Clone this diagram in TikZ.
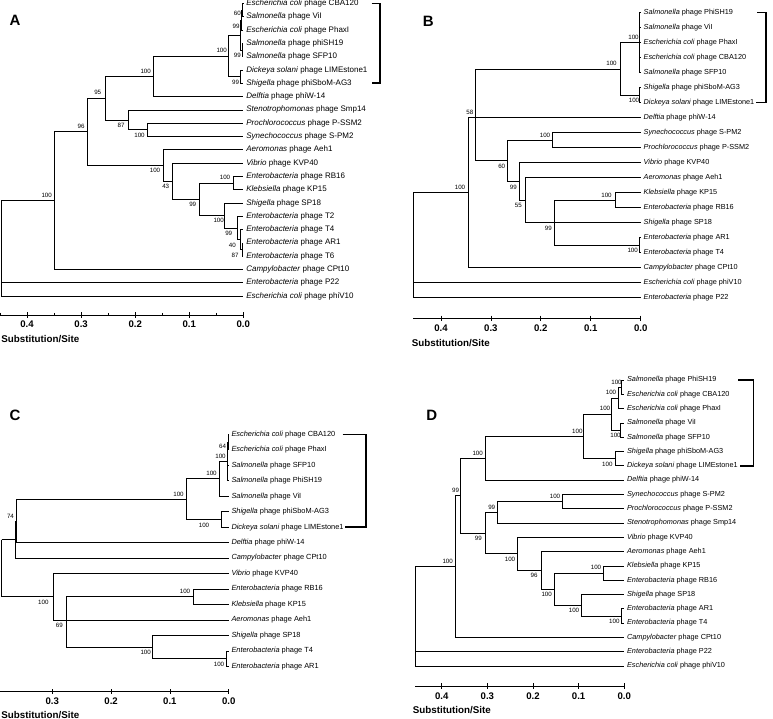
\documentclass[tikz,border=0pt]{standalone}
\usepackage{fontspec}
\setmainfont{Liberation Sans}
\begin{document}
\tikzset{
  br/.style={line width=0.7pt, draw=black},
  brk/.style={line width=1.6pt, draw=black},
  lfA/.style={anchor=west, inner xsep=2.8pt, inner ysep=0.3pt, font=\fontsize{8}{9}\selectfont},
  lfB/.style={anchor=west, inner xsep=2.8pt, inner ysep=0.3pt, font=\fontsize{7.3}{8.5}\selectfont},
  lfC/.style={anchor=west, inner xsep=2.6pt, inner ysep=0.3pt, font=\fontsize{7.4}{8.5}\selectfont},
  lfD/.style={anchor=west, inner xsep=2.6pt, inner ysep=0.3pt, font=\fontsize{7.3}{8.5}\selectfont},
  bs/.style={inner sep=0pt, font=\fontsize{6.2}{7}\selectfont},
  axl/.style={inner sep=0pt, font=\bfseries\fontsize{9.6}{11}\selectfont},
  subs/.style={anchor=west, inner sep=0pt, font=\bfseries\fontsize{9.8}{11}\selectfont},
  pl/.style={inner sep=0pt, font=\bfseries\fontsize{15}{17}\selectfont}
}
\begin{tikzpicture}[x=1pt,y=-1pt]
\useasboundingbox (0,0) rectangle (773,719);

% ================= PANEL A =================
\node[pl] (pA) at (15,20) {A};
\node[lfA] (lA0) at (243.3,3.5) {\textit{Escherichia coli} phage CBA120};
\node[lfA] (lA1) at (243.3,16.8) {\textit{Salmonella} phage ViI};
\node[lfA] (lA2) at (243.3,30.1) {\textit{Escherichia coli} phage PhaxI};
\node[lfA] (lA3) at (243.3,43.4) {\textit{Salmonella} phage phiSH19};
\node[lfA] (lA4) at (243.3,56.7) {\textit{Salmonella} phage SFP10};
\node[lfA] (lA5) at (243.3,70.0) {\textit{Dickeya solani} phage LIMEstone1};
\node[lfA] (lA6) at (243.3,83.3) {\textit{Shigella} phage phiSboM-AG3};
\node[lfA] (lA7) at (243.3,96.6) {\textit{Delftia} phage phiW-14};
\node[lfA] (lA8) at (243.3,109.9) {\textit{Stenotrophomonas} phage Smp14};
\node[lfA] (lA9) at (243.3,123.2) {\textit{Prochlorococcus} phage P-SSM2};
\node[lfA] (lA10) at (243.3,136.5) {\textit{Synechococcus} phage S-PM2};
\node[lfA] (lA11) at (243.3,149.8) {\textit{Aeromonas} phage Aeh1};
\node[lfA] (lA12) at (243.3,163.1) {\textit{Vibrio} phage KVP40};
\node[lfA] (lA13) at (243.3,176.4) {\textit{Enterobacteria} phage RB16};
\node[lfA] (lA14) at (243.3,189.7) {\textit{Klebsiella} phage KP15};
\node[lfA] (lA15) at (243.3,203.0) {\textit{Shigella} phage SP18};
\node[lfA] (lA16) at (243.3,216.3) {\textit{Enterobacteria} phage T2};
\node[lfA] (lA17) at (243.3,229.6) {\textit{Enterobacteria} phage T4};
\node[lfA] (lA18) at (243.3,242.9) {\textit{Enterobacteria} phage AR1};
\node[lfA] (lA19) at (243.3,256.2) {\textit{Enterobacteria} phage T6};
\node[lfA] (lA20) at (243.3,269.5) {\textit{Campylobacter} phage CPt10};
\node[lfA] (lA21) at (243.3,282.8) {\textit{Enterobacteria} phage P22};
\node[lfA] (lA22) at (243.3,296.1) {\textit{Escherichia coli} phage phiV10};

\coordinate (a6) at (242.6,10.15);
\coordinate (a4) at (241.8,20.1);
\coordinate (a5) at (242.3,50.05);
\coordinate (a2) at (240.8,35.1);
\coordinate (a3) at (240.3,76.65);
\coordinate (a1) at (228.3,55.9);
\coordinate (a7) at (153.3,76.25);
\coordinate (a10) at (147.7,129.85);
\coordinate (a9) at (128.3,119.9);
\coordinate (a8) at (105,98.1);
\coordinate (a15) at (233.3,183.05);
\coordinate (a19) at (242.2,249.55);
\coordinate (a18) at (240.8,239.6);
\coordinate (a17) at (237.7,227.95);
\coordinate (a16) at (224.3,215.5);
\coordinate (a14) at (199.3,199.3);
\coordinate (a13) at (172.3,181.2);
\coordinate (a12) at (163.3,165.5);
\coordinate (a11) at (87.3,131.8);
\coordinate (a20) at (54.3,200.65);
\coordinate (a0) at (1.7,282.8);

\draw[br] (a6) |- (lA0.west) (a6) |- (lA1.west)
 (a4) |- (a6) (a4) |- (lA2.west)
 (a5) |- (lA3.west) (a5) |- (lA4.west)
 (a2) |- (a4) (a2) |- (a5)
 (a3) |- (lA5.west) (a3) |- (lA6.west)
 (a1) |- (a2) (a1) |- (a3)
 (a7) |- (a1) (a7) |- (lA7.west)
 (a10) |- (lA9.west) (a10) |- (lA10.west)
 (a9) |- (lA8.west) (a9) |- (a10)
 (a8) |- (a7) (a8) |- (a9)
 (a15) |- (lA13.west) (a15) |- (lA14.west)
 (a19) |- (lA18.west) (a19) |- (lA19.west)
 (a18) |- (lA17.west) (a18) |- (a19)
 (a17) |- (lA16.west) (a17) |- (a18)
 (a16) |- (lA15.west) (a16) |- (a17)
 (a14) |- (a15) (a14) |- (a16)
 (a13) |- (lA12.west) (a13) |- (a14)
 (a12) |- (lA11.west) (a12) |- (a13)
 (a11) |- (a8) (a11) |- (a12)
 (a20) |- (a11) (a20) |- (lA20.west)
 (a0) |- (a20) (a0) |- (lA21.west) (a0) |- (lA22.west);

\node[bs] (bA1) at (237.3,13) {60};
\node[bs] (bA2) at (236,26.5) {99};
\node[bs] (bA3) at (237.3,55.5) {99};
\node[bs] (bA4) at (235.5,82) {99};
\node[bs] (bA5) at (221.7,50.5) {100};
\node[bs] (bA6) at (145.7,71) {100};
\node[bs] (bA7) at (97.7,92.8) {95};
\node[bs] (bA8) at (81,126.5) {96};
\node[bs] (bA9) at (121,125.2) {87};
\node[bs] (bA10) at (139.5,135.2) {100};
\node[bs] (bA11) at (155,170.8) {100};
\node[bs] (bA12) at (165.7,186.5) {43};
\node[bs] (bA13) at (192.7,204.6) {99};
\node[bs] (bA14) at (225,177.8) {100};
\node[bs] (bA15) at (218.7,220.8) {100};
\node[bs] (bA16) at (228.7,233.2) {99};
\node[bs] (bA17) at (232.3,244.9) {40};
\node[bs] (bA18) at (235,254.9) {87};
\node[bs] (bA19) at (46.7,195.4) {100};

\draw[brk] (371.7,3.5) -- (380,3.5) -- (380,83.3) -- (371.7,83.3);

\coordinate (axA0) at (0,315);
\coordinate (axA1) at (243.3,315);
\draw[br] (axA0) -- (axA1);
\foreach \x/\l [count=\i] in {27/0.4, 81.1/0.3, 135.2/0.2, 189.2/0.1, 243.3/0.0} {
  \draw[br] (\x,312.3) -- (\x,317.7);
  \node[axl] (tA\i) at (\x,324.3) {\l};
}
\foreach \x in {0.3, 54.1, 108.2, 162.2, 216.3} {\draw[br] (\x,312.8) -- (\x,315);}
\node[subs] (sA) at (1.2,339.3) {Substitution/Site};

% ================= PANEL B =================
\node[pl] (pB) at (428.3,21) {B};
\node[lfB] (lB0) at (640.7,12.7) {\textit{Salmonella} phage PhiSH19};
\node[lfB] (lB1) at (640.7,27.7) {\textit{Salmonella} phage ViI};
\node[lfB] (lB2) at (640.7,42.7) {\textit{Escherichia coli} phage PhaxI};
\node[lfB] (lB3) at (640.7,57.7) {\textit{Escherichia coli} phage CBA120};
\node[lfB] (lB4) at (640.7,72.7) {\textit{Salmonella} phage SFP10};
\node[lfB] (lB5) at (640.7,87.7) {\textit{Shigella} phage phiSboM-AG3};
\node[lfB] (lB6) at (640.7,102.7) {\textit{Dickeya solani} phage LIMEstone1};
\node[lfB] (lB7) at (640.7,117.7) {\textit{Delftia} phage phiW-14};
\node[lfB] (lB8) at (640.7,132.7) {\textit{Synechococcus} phage S-PM2};
\node[lfB] (lB9) at (640.7,147.7) {\textit{Prochlorococcus} phage P-SSM2};
\node[lfB] (lB10) at (640.7,162.7) {\textit{Vibrio} phage KVP40};
\node[lfB] (lB11) at (640.7,177.7) {\textit{Aeromonas} phage Aeh1};
\node[lfB] (lB12) at (640.7,192.7) {\textit{Klebsiella} phage KP15};
\node[lfB] (lB13) at (640.7,207.7) {\textit{Enterobacteria} phage RB16};
\node[lfB] (lB14) at (640.7,222.7) {\textit{Shigella} phage SP18};
\node[lfB] (lB15) at (640.7,237.7) {\textit{Enterobacteria} phage AR1};
\node[lfB] (lB16) at (640.7,252.7) {\textit{Enterobacteria} phage T4};
\node[lfB] (lB17) at (640.7,267.7) {\textit{Campylobacter} phage CPt10};
\node[lfB] (lB18) at (640.7,282.7) {\textit{Escherichia coli} phage phiV10};
\node[lfB] (lB19) at (640.7,297.7) {\textit{Enterobacteria} phage P22};

\coordinate (bt5) at (639.5,42.7);
\coordinate (bp) at (639.5,95.2);
\coordinate (btop) at (620.7,68.95);
\coordinate (b100s) at (552.3,140.2);
\coordinate (b100c) at (615,200.2);
\coordinate (b100d) at (639.8,245.2);
\coordinate (b99b) at (554.3,222.7);
\coordinate (b55) at (525,200.2);
\coordinate (b99a) at (519,181.45);
\coordinate (b60) at (507.7,160.8);
\coordinate (b58) at (475.7,117.7);
\coordinate (b100a) at (468.3,192.7);
\coordinate (broot) at (413.3,282.7);

\draw[br] (bt5) |- (lB0.west) (bt5) |- (lB1.west) (bt5) |- (lB2.west) (bt5) |- (lB3.west) (bt5) |- (lB4.west)
 (bp) |- (lB5.west) (bp) |- (lB6.west)
 (btop) |- (bt5) (btop) |- (bp)
 (b100s) |- (lB8.west) (b100s) |- (lB9.west)
 (b100c) |- (lB12.west) (b100c) |- (lB13.west)
 (b100d) |- (lB15.west) (b100d) |- (lB16.west)
 (b99b) |- (b100c) (b99b) |- (lB14.west) (b99b) |- (b100d)
 (b55) |- (lB11.west) (b55) |- (b99b)
 (b99a) |- (lB10.west) (b99a) |- (b55)
 (b60) |- (b100s) (b60) |- (b99a)
 (b58) |- (btop) (b58) |- (lB7.west) (b58) |- (b60)
 (b100a) |- (b58) (b100a) |- (lB17.west)
 (broot) |- (b100a) (broot) |- (lB18.west) (broot) |- (lB19.west);

\node[bs] (bB1) at (633.5,37.5) {100};
\node[bs] (bB2) at (611.5,63.8) {100};
\node[bs] (bB3) at (634,100.5) {100};
\node[bs] (bB4) at (469.8,112.5) {58};
\node[bs] (bB5) at (460,187.2) {100};
\node[bs] (bB6) at (545,135) {100};
\node[bs] (bB7) at (501.7,166.3) {60};
\node[bs] (bB8) at (513.3,187) {99};
\node[bs] (bB9) at (518.3,205.7) {55};
\node[bs] (bB10) at (548.3,228.2) {99};
\node[bs] (bB11) at (606.5,195) {100};
\node[bs] (bB12) at (632.7,250.5) {100};

\draw[brk] (757,12.7) -- (766,12.7) -- (766,102.7) -- (756,102.7);

\coordinate (axB0) at (413.3,318.3);
\coordinate (axB1) at (640.7,318.3);
\draw[br] (axB0) -- (axB1);
\foreach \x/\l [count=\i] in {441/0.4, 490.9/0.3, 540.8/0.2, 590.8/0.1, 640.7/0.0} {
  \draw[br] (\x,315.6) -- (\x,321);
  \node[axl] (tB\i) at (\x,328.3) {\l};
}
\node[subs] (sB) at (411.7,342.7) {Substitution/Site};

% ================= PANEL C =================
\node[pl] (pC) at (15,415) {C};
\node[lfC] (lC0) at (228.7,434.3) {\textit{Escherichia coli} phage CBA120};
\node[lfC] (lC1) at (228.7,449.77) {\textit{Escherichia coli} phage PhaxI};
\node[lfC] (lC2) at (228.7,465.24) {\textit{Salmonella} phage SFP10};
\node[lfC] (lC3) at (228.7,480.71) {\textit{Salmonella} phage PhiSH19};
\node[lfC] (lC4) at (228.7,496.18) {\textit{Salmonella} phage ViI};
\node[lfC] (lC5) at (228.7,511.65) {\textit{Shigella} phage phiSboM-AG3};
\node[lfC] (lC6) at (228.7,527.12) {\textit{Dickeya solani} phage LIMEstone1};
\node[lfC] (lC7) at (228.7,542.59) {\textit{Delftia} phage phiW-14};
\node[lfC] (lC8) at (228.7,558.06) {\textit{Campylobacter} phage CPt10};
\node[lfC] (lC9) at (228.7,573.53) {\textit{Vibrio} phage KVP40};
\node[lfC] (lC10) at (228.7,589.0) {\textit{Enterobacteria} phage RB16};
\node[lfC] (lC11) at (228.7,604.47) {\textit{Klebsiella} phage KP15};
\node[lfC] (lC12) at (228.7,619.94) {\textit{Aeromonas} phage Aeh1};
\node[lfC] (lC13) at (228.7,635.41) {\textit{Shigella} phage SP18};
\node[lfC] (lC14) at (228.7,650.88) {\textit{Enterobacteria} phage T4};
\node[lfC] (lC15) at (228.7,666.35) {\textit{Enterobacteria} phage AR1};

\coordinate (c64) at (228.1,442.0);
\coordinate (c2) at (227.0,461.4);
\coordinate (c1) at (219,478.8);
\coordinate (c5) at (221.7,519.4);
\coordinate (c186) at (186,499.1);
\coordinate (c74) at (15.9,520.85);
\coordinate (cx) at (15,539.5);
\coordinate (c100g) at (193.3,596.75);
\coordinate (c7) at (226,658.6);
\coordinate (c100h) at (152.7,647.0);
\coordinate (c69) at (66,619.94);
\coordinate (c6) at (53.3,596.75);
\coordinate (croot) at (1.7,539.5);

\draw[br] (c64) |- (lC0.west) (c64) |- (lC1.west)
 (c2) |- (c64) (c2) |- (lC2.west) (c2) |- (lC3.west)
 (c1) |- (c2) (c1) |- (lC4.west)
 (c5) |- (lC5.west) (c5) |- (lC6.west)
 (c186) |- (c1) (c186) |- (c5)
 (c74) |- (c186) (c74) |- (lC7.west)
 (cx) |- (c74) (cx) |- (lC8.west)
 (c100g) |- (lC10.west) (c100g) |- (lC11.west)
 (c7) |- (lC14.west) (c7) |- (lC15.west)
 (c100h) |- (lC13.west) (c100h) |- (c7)
 (c69) |- (c100g) (c69) |- (lC12.west) (c69) |- (c100h)
 (c6) |- (lC9.west) (c6) |- (c69)
 (croot) |- (cx) (croot) |- (c6);

\node[bs] (bC1) at (222.5,446.5) {64};
\node[bs] (bC2) at (220.5,456.3) {100};
\node[bs] (bC3) at (211.5,473.5) {100};
\node[bs] (bC4) at (178.5,494) {100};
\node[bs] (bC5) at (204,525) {100};
\node[bs] (bC6) at (10.5,516) {74};
\node[bs] (bC7) at (43.3,602.5) {100};
\node[bs] (bC8) at (59.3,625.8) {69};
\node[bs] (bC9) at (185,591.5) {100};
\node[bs] (bC10) at (145.7,652.5) {100};
\node[bs] (bC11) at (219,664) {100};

\draw[brk] (342.7,434.3) -- (365.7,434.3) -- (365.7,527.12) -- (345,527.12);

\coordinate (axC0) at (0,691.7);
\coordinate (axC1) at (228.7,691.7);
\draw[br] (axC0) -- (axC1);
\foreach \x/\l [count=\i] in {52.3/0.3, 111.1/0.2, 169.9/0.1, 228.7/0.0} {
  \draw[br] (\x,689) -- (\x,694.4);
  \node[axl] (tC\i) at (\x,701.3) {\l};
}
\node[subs] (sC) at (1.2,714.8) {Substitution/Site};

% ================= PANEL D =================
\node[pl] (pD) at (431.7,415) {D};
\node[lfD] (lD0) at (624.3,380) {\textit{Salmonella} phage PhiSH19};
\node[lfD] (lD1) at (624.3,394.3) {\textit{Escherichia coli} phage CBA120};
\node[lfD] (lD2) at (624.3,408.6) {\textit{Escherichia coli} phage PhaxI};
\node[lfD] (lD3) at (624.3,422.9) {\textit{Salmonella} phage ViI};
\node[lfD] (lD4) at (624.3,437.2) {\textit{Salmonella} phage SFP10};
\node[lfD] (lD5) at (624.3,451.5) {\textit{Shigella} phage phiSboM-AG3};
\node[lfD] (lD6) at (624.3,465.8) {\textit{Dickeya solani} phage LIMEstone1};
\node[lfD] (lD7) at (624.3,480.1) {\textit{Delftia} phage phiW-14};
\node[lfD] (lD8) at (624.3,494.4) {\textit{Synechococcus} phage S-PM2};
\node[lfD] (lD9) at (624.3,508.7) {\textit{Prochlorococcus} phage P-SSM2};
\node[lfD] (lD10) at (624.3,523.0) {\textit{Stenotrophomonas} phage Smp14};
\node[lfD] (lD11) at (624.3,537.3) {\textit{Vibrio} phage KVP40};
\node[lfD] (lD12) at (624.3,551.6) {\textit{Aeromonas} phage Aeh1};
\node[lfD] (lD13) at (624.3,565.9) {\textit{Klebsiella} phage KP15};
\node[lfD] (lD14) at (624.3,580.2) {\textit{Enterobacteria} phage RB16};
\node[lfD] (lD15) at (624.3,594.5) {\textit{Shigella} phage SP18};
\node[lfD] (lD16) at (624.3,608.8) {\textit{Enterobacteria} phage AR1};
\node[lfD] (lD17) at (624.3,623.1) {\textit{Enterobacteria} phage T4};
\node[lfD] (lD18) at (624.3,637.4) {\textit{Campylobacter} phage CPt10};
\node[lfD] (lD19) at (624.3,651.7) {\textit{Enterobacteria} phage P22};
\node[lfD] (lD20) at (624.3,666.0) {\textit{Escherichia coli} phage phiV10};

\coordinate (d1) at (621.5,387.15);
\coordinate (d2) at (618.3,397.9);
\coordinate (d4) at (620.7,430.05);
\coordinate (d3) at (611.7,414.0);
\coordinate (d7) at (615,458.65);
\coordinate (d5) at (583.3,436.3);
\coordinate (d6) at (485,458.2);
\coordinate (d14) at (562.7,501.55);
\coordinate (d11) at (497.3,512.3);
\coordinate (d17) at (603.3,573.05);
\coordinate (d19) at (621.7,615.95);
\coordinate (d18) at (581.7,605.2);
\coordinate (d16) at (554.3,589.1);
\coordinate (d15) at (541,570.35);
\coordinate (d13) at (517.3,553.8);
\coordinate (d8) at (485,533.05);
\coordinate (d10) at (460.7,495.6);
\coordinate (d9) at (455,566.5);
\coordinate (droot) at (415,651.7);

\draw[br] (d1) |- (lD0.west) (d1) |- (lD1.west)
 (d2) |- (d1) (d2) |- (lD2.west)
 (d4) |- (lD3.west) (d4) |- (lD4.west)
 (d3) |- (d2) (d3) |- (d4)
 (d7) |- (lD5.west) (d7) |- (lD6.west)
 (d5) |- (d3) (d5) |- (d7)
 (d6) |- (d5) (d6) |- (lD7.west)
 (d14) |- (lD8.west) (d14) |- (lD9.west)
 (d11) |- (d14) (d11) |- (lD10.west)
 (d17) |- (lD13.west) (d17) |- (lD14.west)
 (d19) |- (lD16.west) (d19) |- (lD17.west)
 (d18) |- (lD15.west) (d18) |- (d19)
 (d16) |- (d17) (d16) |- (d18)
 (d15) |- (lD12.west) (d15) |- (d16)
 (d13) |- (lD11.west) (d13) |- (d15)
 (d8) |- (d11) (d8) |- (d13)
 (d10) |- (d6) (d10) |- (d8)
 (d9) |- (d10) (d9) |- (lD18.west)
 (droot) |- (d9) (droot) |- (lD19.west) (droot) |- (lD20.west);

\node[bs] (bD1) at (616.5,382) {100};
\node[bs] (bD2) at (611,392.5) {100};
\node[bs] (bD3) at (605,408.7) {100};
\node[bs] (bD4) at (615.5,435.8) {100};
\node[bs] (bD5) at (577.3,431) {100};
\node[bs] (bD6) at (607.3,464) {100};
\node[bs] (bD7) at (477.7,453) {100};
\node[bs] (bD8) at (455.5,490.3) {99};
\node[bs] (bD9) at (447.7,561.2) {100};
\node[bs] (bD10) at (478.3,538.5) {99};
\node[bs] (bD11) at (491.7,507) {99};
\node[bs] (bD12) at (555,496.3) {100};
\node[bs] (bD13) at (510,559.3) {100};
\node[bs] (bD14) at (534,575.8) {96};
\node[bs] (bD15) at (546.7,594.5) {100};
\node[bs] (bD16) at (596,567.8) {100};
\node[bs] (bD17) at (574,610.5) {100};
\node[bs] (bD18) at (614.3,621.3) {100};

\draw[brk] (738.3,380) -- (753.3,380) -- (753.3,465.8) -- (740,465.8);

\coordinate (axD0) at (415,686);
\coordinate (axD1) at (624.3,686);
\draw[br] (axD0) -- (axD1);
\foreach \x/\l [count=\i] in {441.7/0.4, 487.35/0.3, 533/0.2, 578.65/0.1, 624.3/0.0} {
  \draw[br] (\x,683.3) -- (\x,688.7);
  \node[axl] (tD\i) at (\x,695.7) {\l};
}
\node[subs] (sD) at (412.7,710) {Substitution/Site};

\end{tikzpicture}
\end{document}
